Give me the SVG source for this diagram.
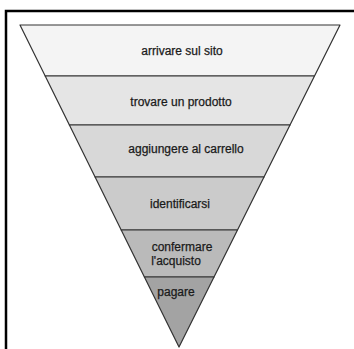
<svg xmlns="http://www.w3.org/2000/svg" width="354" height="349" viewBox="0 0 354 349">
<style>
.band{stroke:#333;stroke-width:1.2;stroke-linejoin:round}
.lbl{font-family:"Liberation Sans",Arial,sans-serif;font-size:12px;fill:#1a1a1a;stroke:#1a1a1a;stroke-width:0.25;text-anchor:middle}
</style>
<rect width="354" height="349" fill="#ffffff"/>
<path d="M6,349 V11 H354" fill="none" stroke="#000" stroke-width="2.5"/>
<g id="step1"><polygon class="band" points="20,25 340,25 314.5,76 45.2,76" fill="#f4f4f4"/><text class="lbl" x="182" y="55">arrivare sul sito</text></g>
<g id="step2"><polygon class="band" points="45.2,76 314.5,76 290,125 69.4,125" fill="#e5e5e5"/><text class="lbl" x="181" y="106">trovare un prodotto</text></g>
<g id="step3"><polygon class="band" points="69.4,125 290,125 264,177 95.1,177" fill="#d8d8d8"/><text class="lbl" x="186" y="153">aggiungere al carrello</text></g>
<g id="step4"><polygon class="band" points="95.1,177 264,177 237.5,230 121.2,230" fill="#cbcbcb"/><text class="lbl" x="180" y="208">identificarsi</text></g>
<g id="step5"><polygon class="band" points="121.2,230 237.5,230 214,277 144.4,277" fill="#bababa"/><text class="lbl" x="182" y="251">confermare</text><text class="lbl" x="176" y="265">l'acquisto</text></g>
<g id="step6"><polygon class="band" points="144.4,277 214,277 179,347" fill="#a3a3a3"/><text class="lbl" x="176" y="296">pagare</text></g>
<g id="connectors"></g>
</svg>
